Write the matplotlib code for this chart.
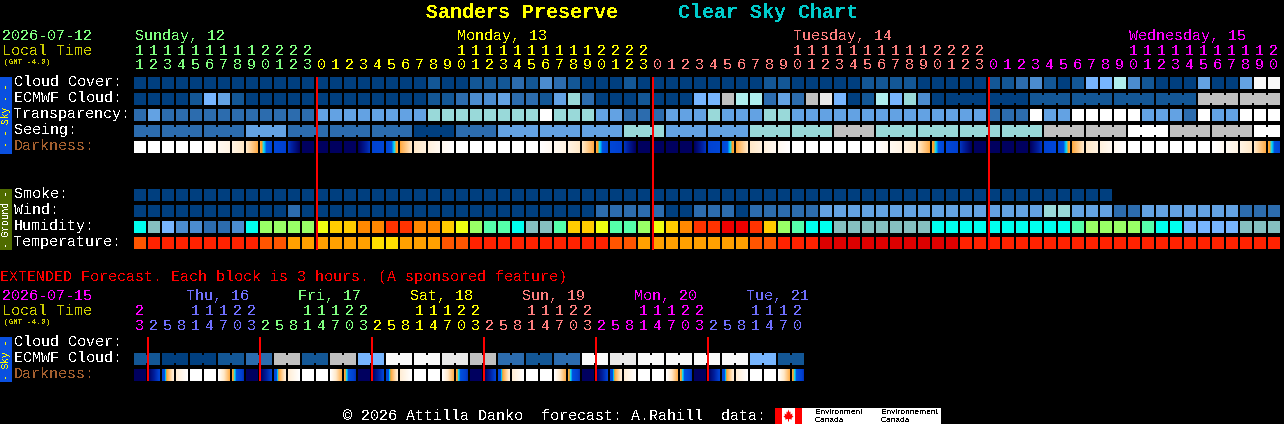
# encoding=utf-8
import numpy as np
import matplotlib
matplotlib.use('Agg')
import matplotlib.pyplot as plt
from matplotlib.colors import LinearSegmentedColormap

plt.rcParams['font.family'] = ['Liberation Mono', 'DejaVu Sans Mono']
plt.rcParams['text.antialiased'] = False

# cloud / transparency / seeing / wind levels
sky_colors = ['#003f7f', '#135796', '#2c6cae', '#4b8ccf', '#63a2e3', '#77b5fe',
              '#afeeee', '#99d9d9', '#c0c0c0', '#e9e9e9', '#f9f9f9', '#ffffff']
humidity_colors = ['#2c6cae', '#4b8ccf', '#77b5fe', '#85bfbf', '#00ffee', '#55ffaa',
                   '#99ff66', '#eeff11', '#ffcc00', '#ff8800', '#ff3300', '#ee0000']
temp_colors = ['#dd0000', '#ff2200', '#ff5500', '#ffa000', '#ffdd00']
smoke_colors = ['#003f7f']

hours = [11, 12, 13, 14, 15, 16, 17, 18, 19, 20, 21, 22, 23,
         0, 1, 2, 3, 4, 5, 6, 7, 8, 9, 10, 11, 12, 13, 14, 15, 16, 17, 18, 19, 20, 21, 22, 23,
         0, 1, 2, 3, 4, 5, 6, 7, 8, 9, 10, 11, 12, 13, 14, 15, 16, 17, 18, 19, 20, 21, 22, 23,
         0, 1, 2, 3, 4, 5, 6, 7, 8, 9, 10, 11, 12, 13, 14, 15, 16, 17, 18, 19, 20]
hour_days = [0]*13 + [1]*24 + [2]*24 + [3]*21
day_colors = ['#80ff80', '#ffff00', '#ff7f7f', '#ff00ff']
day_labels = [('Sunday, 12', 0), ('Monday, 13', 23), ('Tuesday, 14', 47), ('Wednesday, 15', 71)]

cloud_cover = [0]*21 + [1, 0, 0, 1, 1, 1, 2, 1, 3, 2, 1, 0, 0, 0, 1, 0, 0, 0, 0, 0, 0, 0, 0, 0, 1, 1, 0, 0, 0, 0,
               0, 1, 1, 1, 1, 0, 0, 0, 0, 0, 1, 1, 2, 3, 1, 0, 1, 5, 5, 6, 3, 1, 0, 0, 0, 4, 0, 0, 4, 10, 10]
ecmwf = [0, 0, 0, 0, 1, 5, 4, 1, 0, 0, 0, 0, 0, 0, 0, 0, 0, 0, 0, 0, 0,
         1, 1, 2, 3, 3, 4, 2, 2, 1, 4, 7, 2, 0, 0, 0, 1, 0, 0, 0, 5, 5, 8, 6, 6, 2, 4, 2, 8, 9, 5, 0,
         1, 6, 5, 7, 3, 0, 0, 0, 0, 0, 0, 0, 1, 1, 1, 1, 1, 1, 1, 1, 1, 1, 1, 1, 8, 8, 8, 8, 8, 8]
ecmwf_spans = [1]*58 + [3]*8
transparency = [2, 4, 2, 2, 2, 2, 2, 2, 2, 2, 2, 2, 2, 4, 4, 4, 4, 4, 4, 4, 4,
                7, 7, 7, 7, 7, 7, 7, 7, 11, 7, 7, 7, 4, 4, 2, 2, 2, 4, 4, 4, 7, 4, 4, 4, 7, 7, 4, 4, 4, 4,
                4, 4, 4, 4, 4, 4, 4, 4, 4, 4, 2, 2, 2, 11, 4, 4, 11, 11, 11, 11, 11, 4, 4, 4, 2, 11, 4, 4, 11, 11, 11]
seeing_spans = [2] + [3]*26 + [2]
seeing = [2, 2, 2, 4, 2, 2, 2, 0, 2, 4, 4, 4, 7, 4, 4, 7, 7, 8, 7, 7, 7, 7, 8, 8, 11, 8, 8, 11]
smoke = [0]*70
wind = [0]*11 + [2] + [0]*21 + [2, 2, 2, 2, 2, 0, 0, 2, 2, 2, 0, 2, 2, 2, 2, 2, 4, 4, 4,
                            4, 4, 4, 4, 4, 4, 4, 4, 4, 4, 4, 4, 4, 7, 7, 4, 4, 4, 2, 2, 4, 4, 4, 4, 4, 4, 4, 2, 2, 2]
humidity = [4, 3, 2, 1, 1, 0, 0, 1, 4, 6, 6, 6, 6, 7, 8, 8, 9, 9, 10, 10, 9,
            9, 8, 7, 6, 5, 5, 4, 3, 3, 5, 8, 8, 7, 5, 5, 6, 7, 8, 9, 10, 10, 11, 11, 10, 8, 6, 5, 4, 4, 3, 3,
            3, 3, 3, 3, 3, 4, 4, 4, 4, 4, 4, 4, 4, 4, 4, 5, 6, 6, 6, 6, 5, 4, 4, 2, 2, 2, 2, 3, 3, 3]
temperature = [2, 1, 1, 1, 1, 1, 1, 1, 1, 2, 2, 3, 3, 3, 3, 3, 3, 4, 4, 3, 3,
               3, 2, 2, 1, 1, 1, 1, 1, 1, 1, 1, 1, 1, 2, 2, 3, 3, 3, 3, 3, 3, 3, 3, 2, 2, 1, 1, 1, 0, 0, 0,
               0, 0, 0, 0, 0, 0, 0, 1, 1, 1, 1, 1, 1, 1, 1, 1, 1, 1, 1, 1, 1, 1, 1, 1, 1, 1, 1, 1, 1, 1]

# darkness at the left and right edge of each hour block, 0 = daylight, 1 = full dark
dark_left = [0, 0, 0, 0, 0, 0, .05, .1, .2, .42, .62, .72, .92, .92, .92, .92, .92, .66, .62, .42, .2, .12,
             .05, 0, 0, 0, 0, 0, 0, 0, .05, .1, .2, .42, .62, .72, .92, .92, .92, .92, .92, .66, .62, .42, .2, .12,
             .05, 0, 0, 0, 0, 0, 0, 0, .05, .1, .2, .42, .62, .72, .92, .92, .92, .92, .92, .66, .62, .42, .2, .12,
             .05, 0, 0, 0, 0, 0, 0, 0, .05, .1, .2, .42]
dark_right = [0, 0, 0, 0, 0, .05, .1, .2, .41, .62, .68, .92, .92, .92, .92, .92, .72, .62, .42, .2, .12, .05,
              0, 0, 0, 0, 0, 0, 0, .05, .1, .2, .41, .62, .68, .92, .92, .92, .92, .92, .72, .62, .42, .2, .12, .05,
              0, 0, 0, 0, 0, 0, 0, .05, .1, .2, .41, .62, .68, .92, .92, .92, .92, .92, .72, .62, .42, .2, .12, .05,
              0, 0, 0, 0, 0, 0, 0, .05, .1, .2, .41, .62]

ext_hours = [23, 2, 5, 8, 11, 14, 17, 20, 23, 2, 5, 8, 11, 14, 17, 20, 23, 2, 5, 8, 11, 14, 17, 20, 23,
             2, 5, 8, 11, 14, 17, 20, 23, 2, 5, 8, 11, 14, 17, 20, 23, 2, 5, 8, 11, 14, 17, 20]
ext_days = [0]*1 + [1]*8 + [2]*8 + [3]*8 + [4]*8 + [0]*8 + [1]*7
ext_day_colors = ['#ff00ff', '#7070ff', '#80ff80', '#ffff00', '#ff7f7f']
ext_day_labels = [('Thu, 16', 4), ('Fri, 17', 12), ('Sat, 18', 20), ('Sun, 19', 28), ('Mon, 20', 36), ('Tue, 21', 44)]
ext_ecmwf = [1, 0, 0, 1, 2, 8, 1, 8, 5, 10, 10, 9, 8, 2, 1, 2, 10, 9, 10, 10, 10, 10, 5, 1]
ext_dark_left = [.92, .92, .62, .15, 0, 0, 0, .42,
                 .92, .92, .62, .15, 0, 0, 0, .42,
                 .92, .92, .62, .15, 0, 0, 0, .42,
                 .92, .92, .62, .15, 0, 0, 0, .42,
                 .92, .92, .62, .15, 0, 0, 0, .42,
                 .92, .92, .62, .15, 0, 0, 0, .42]
ext_dark_right = [.92, .66, .15, 0, 0, 0, .4, .72,
                  .92, .66, .15, 0, 0, 0, .4, .72,
                  .92, .66, .15, 0, 0, 0, .4, .72,
                  .92, .66, .15, 0, 0, 0, .4, .72,
                  .92, .66, .15, 0, 0, 0, .4, .72,
                  .92, .66, .15, 0, 0, 0, .4, .72]

dark_cmap = LinearSegmentedColormap.from_list('darkness', [
    (0, '#ffffff'), (.2, '#ffe8c8'), (.4, '#ffb050'), (.44, '#ffa020'), (.48, '#00e0ff'),
    (.53, '#0050e0'), (.68, '#0040d0'), (.78, '#0020a0'), (.92, '#000060'), (1, '#000040')], N=1024)

X0 = 134
PITCH = 14
BLOCK = 12

fig = plt.figure(figsize=(12.84, 4.24), dpi=100, facecolor='black')
ax = fig.add_axes([0, 0, 1, 1])
ax.set_axis_off()


def put(x, y, s, color='white', px=15, **kw):
    kw.setdefault('va', 'center')
    ax.text(x, y+1, s, color=color, fontsize=px*0.72, **kw)


def block_row(y, values, colors, spans=None):
    xs = X0 + PITCH*np.arange(len(values))
    ax.bar(xs, BLOCK, width=BLOCK, bottom=y, align='edge', linewidth=0, antialiased=False,
           color=[colors[v] for v in values])
    if spans is None:
        return
    i = 0
    for n in spans:
        for k in range(n-1):
            ax.bar(X0 + PITCH*(i+k) + BLOCK, 8, width=PITCH-BLOCK, bottom=y+2, align='edge',
                   linewidth=0, antialiased=False, color=colors[values[i]])
        i += n


def span_values(spans, vals):
    out = []
    for n, v in zip(spans, vals):
        out += [v]*n
    return out


def dark_row(y, left, right):
    for i in range(len(left)):
        x = X0 + PITCH*i
        strip = np.linspace(left[i], right[i], BLOCK)[None, :]
        ax.imshow(strip, cmap=dark_cmap, vmin=0, vmax=1, aspect='auto', interpolation='nearest',
                  extent=(x, x+BLOCK, y+BLOCK, y))


def hour_labels(y_tens, y_units, hrs, days, colors):
    for i, h in enumerate(hrs):
        x = X0 + PITCH*i + 5.5
        if h >= 10:
            put(x, y_tens, str(h//10), colors[days[i]], ha='center')
        put(x, y_units, str(h % 10), colors[days[i]], ha='center')


def side_bar(y0, y1, color, s, text_color):
    ax.bar(0, y1-y0, width=12, bottom=y0, align='edge', linewidth=0, antialiased=False, color=color)
    put(6, (y0+y1)/2 - 1, s, text_color, px=9.6, rotation=90, ha='center', rotation_mode='anchor')


# titles
put(426, 11, 'Sanders Preserve', '#ffff00', px=20, fontweight='bold')
put(678, 11, 'Clear Sky Chart', '#00cccc', px=20, fontweight='bold')

# hourly header
put(2, 35, '2026-07-12', '#80ff80')
put(2, 50, 'Local Time', '#cccc00')
put(4, 61, '(GMT -4.0)', '#cccc00', px=7.6)
for label, col in day_labels:
    put(X0 + PITCH*col + 1, 35, label, day_colors[hour_days[col]])
hour_labels(50, 64, hours, hour_days, day_colors)

# hourly sky rows
for y, s, c in [(81, 'Cloud Cover:', 'white'), (97, 'ECMWF Cloud:', 'white'), (113, 'Transparency:', 'white'),
                (129, 'Seeing:', 'white'), (145, 'Darkness:', '#a5602f'),
                (193, 'Smoke:', 'white'), (209, 'Wind:', 'white'), (225, 'Humidity:', 'white'),
                (241, 'Temperature:', 'white')]:
    put(14, y, s, c)
block_row(77, cloud_cover, sky_colors)
block_row(93, ecmwf, sky_colors, ecmwf_spans)
block_row(109, transparency, sky_colors)
block_row(125, span_values(seeing_spans, seeing), sky_colors, seeing_spans)
dark_row(141, dark_left, dark_right)
block_row(189, smoke, smoke_colors)
block_row(205, wind, sky_colors)
block_row(221, humidity, humidity_colors)
block_row(237, temperature, temp_colors)
side_bar(77, 154, '#0a50e0', '- - Sky - -', '#ffff00')
side_bar(189, 250, '#4f6b00', '- Ground -', 'white')
ax.vlines([X0 + PITCH*13 + 0.5, X0 + PITCH*37 + 0.5, X0 + PITCH*61 + 0.5], 77, 250, color='#ff0000', linewidth=1.44)

# extended forecast
put(0, 276, 'EXTENDED Forecast. Each block is 3 hours. (A sponsored feature)', '#ff0000')
put(2, 295, '2026-07-15', '#ff00ff')
put(2, 310, 'Local Time', '#cccc00')
put(4, 321, '(GMT -4.0)', '#cccc00', px=7.6)
for label, col in ext_day_labels:
    put(X0 + PITCH*col - 4, 295, label, ext_day_colors[ext_days[col]])
hour_labels(310, 325, ext_hours, ext_days, ext_day_colors)
put(14, 341, 'Cloud Cover:')
put(14, 357, 'ECMWF Cloud:')
put(14, 373, 'Darkness:', '#a5602f')
ext_spans = [2]*24
block_row(353, span_values(ext_spans, ext_ecmwf), sky_colors, ext_spans)
dark_row(369, ext_dark_left, ext_dark_right)
side_bar(337, 382, '#0a50e0', '- Sky -', '#ffff00')
ax.vlines([X0 + PITCH*(1 + 8*i) - 0.5 for i in range(6)], 337, 381, color='#ff0000', linewidth=1.44)

# footer with data credit
put(343, 415, '© 2026 Attilla Danko  forecast: A.Rahill  data:')
ax.bar(775, 16, width=166, bottom=408, align='edge', linewidth=0, antialiased=False, color='white')
ax.bar([775, 795], 16, width=7, bottom=408, align='edge', linewidth=0, antialiased=False, color='#ff0000')
leaf = [(0, -6), (1, -3), (2, -4), (2, -1), (4, -2), (3.5, 0), (5, 1), (3, 2.5), (3.5, 4),
        (.5, 3.5), (.5, 6), (-.5, 6), (-.5, 3.5), (-3.5, 4), (-3, 2.5), (-5, 1), (-3.5, 0),
        (-4, -2), (-2, -1), (-2, -4), (-1, -3)]
ax.fill([788.5 + p[0] for p in leaf], [415.5 + p[1] for p in leaf], color='#ff0000', linewidth=0)
for x, a, b in [(815, 'Environment', 'Canada'), (881, 'Environnement', 'Canada')]:
    ax.text(x, 412, a, color='black', fontsize=6, va='center', family='Liberation Sans')
    ax.text(x, 420, b, color='black', fontsize=6, va='center', family='Liberation Sans')

ax.set_xlim(0, 1284)
ax.set_ylim(424, 0)
fig.savefig('out.png', dpi=100, facecolor='black')
